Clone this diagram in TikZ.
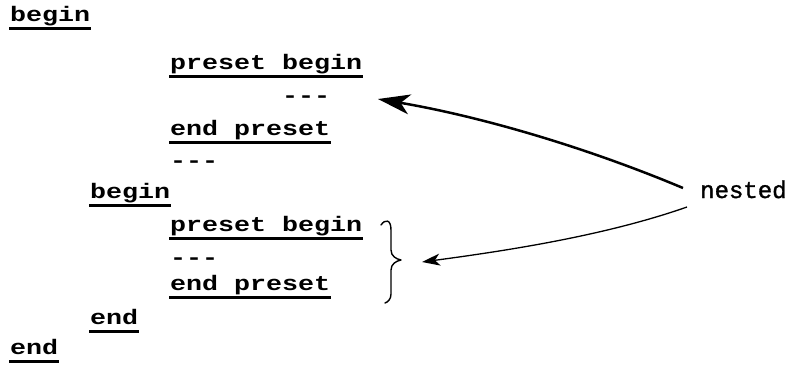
\documentclass[tikz,border=0pt]{standalone}
\usepackage{fontspec}
\usetikzlibrary{arrows.meta}
\newfontfamily\twbold{Liberation Mono Bold}[FakeStretch=1.27]
\newfontfamily\twreg{Liberation Mono}[FakeBold=1.3]
\tikzset{
  kw/.style={anchor=base west, inner sep=0pt, font=\twbold\fontsize{21}{21}\selectfont},
  plain/.style={anchor=base west, inner sep=0pt, font=\twreg\fontsize{24}{24}\selectfont},
  ul/.style={line width=2.4pt},
  bigarrow/.style={line width=2.5pt, -{Stealth[length=32pt,width=20pt,inset=9pt]}},
  smallarrow/.style={line width=1.3pt, -{Stealth[length=18pt,width=12pt,inset=5pt]}},
  bracestyle/.style={line width=1.4pt, line cap=round, line join=round}
}
\begin{document}
\begin{tikzpicture}[x=1pt,y=-1pt]
\useasboundingbox (0,0) rectangle (791,368);
% text lines
\node[kw] (b1)  at (10,21)  {begin};
\node[kw] (pb1) at (170,69) {preset begin};
\node[kw] (d1)  at (282,102) {-{}-{}-};
\node[kw] (ep1) at (170,135) {end preset};
\node[kw] (d2)  at (170,167) {-{}-{}-};
\node[kw] (b2)  at (90,198) {begin};
\node[kw] (pb2) at (170,231) {preset begin};
\node[kw] (d3)  at (170,264) {-{}-{}-};
\node[kw] (ep2) at (170,290) {end preset};
\node[kw] (e2)  at (90,324) {end};
\node[kw] (e1)  at (10,354) {end};
\node[plain] (nested) at (700,198) {nested};
% underlines
\foreach \n in {b1,pb1,ep1,b2,pb2,ep2,e2,e1}{
  \draw[ul] ([shift={(-1,7.5)}]\n.base west) -- ([shift={(1,7.5)}]\n.base east);
}
% brace
\draw[bracestyle] (381,225) .. controls (385,219) and (391,219) .. (391,230)
  -- (391,250) .. controls (391,256) and (396,259) .. (401,260)
  .. controls (396,261) and (391,264) .. (391,270)
  -- (391,294) .. controls (391,299) and (388,302) .. (385,303);
% arrows
\coordinate (t1) at (378,99);
\coordinate (t2) at (422,262);
\draw[bigarrow] ([shift={(-17,-10)}]nested.base west) .. controls (583,146) and (478,116) .. (t1);
\draw[smallarrow] ([shift={(-13,9)}]nested.base west) .. controls (607,235) and (512,250) .. (t2);
\end{tikzpicture}
\end{document}
